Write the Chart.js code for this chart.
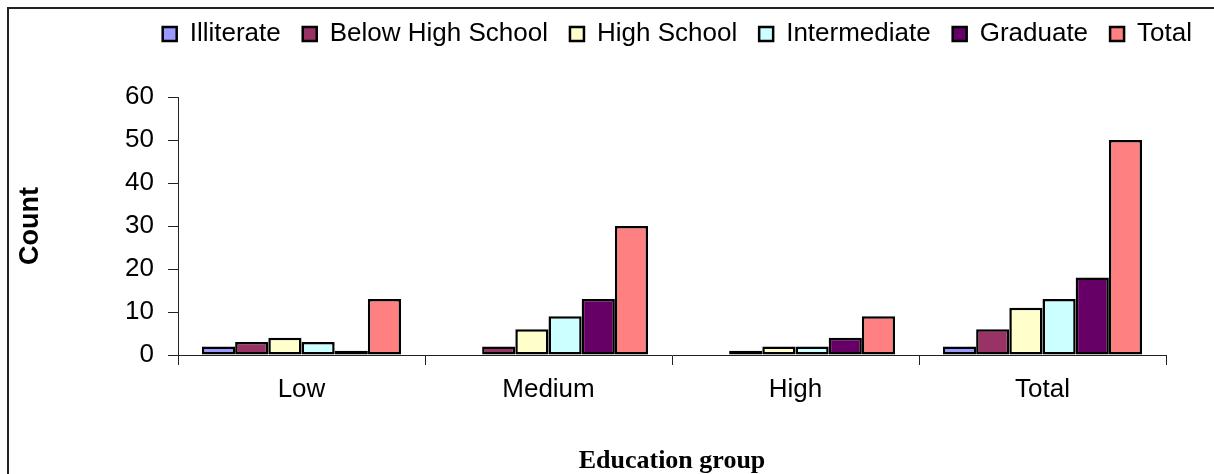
<!DOCTYPE html>
<html>
<head>
<meta charset="utf-8">
<script src="https://cdn.jsdelivr.net/npm/chart.js@4/dist/chart.umd.min.js"></script>
<style>
  html, body { margin: 0; padding: 0; background: #fff; }
  #wrap { position: relative; width: 1214px; height: 474px; }
  #frame {
    position: absolute; left: 7px; top: 7px; right: 0; bottom: 0;
    border-left: 2px solid #222; border-top: 2px solid #222;
  }
  #chart { position: absolute; left: 0; top: 0; }
</style>
</head>
<body>
<div id="wrap">
  <div id="frame"></div>
  <canvas id="chart" width="1214" height="474"></canvas>
</div>
<script>
const categories = ['Low', 'Medium', 'High', 'Total'];
const seriesNames = ['Illiterate', 'Below High School', 'High School', 'Intermediate', 'Graduate', 'Total'];
const illiterate = [2, 0, 0, 2];
const belowHighSchool = [3, 2, 1, 6];
const highSchool = [4, 6, 2, 11];
const intermediate = [3, 9, 2, 13];
const graduate = [1, 13, 4, 18];
const total = [13, 30, 9, 50];
const yMax = 60;
const yStep = 10;

const colors = ['#9999FF', '#993366', '#FFFFCC', '#CCFFFF', '#660066', '#FF8080'];
const values = [illiterate, belowHighSchool, highSchool, intermediate, graduate, total];

const sans = 'Arial, "Liberation Sans", sans-serif';

const ctx = document.getElementById('chart').getContext('2d');

new Chart(ctx, {
  type: 'bar',
  data: {
    labels: categories,
    datasets: seriesNames.map((name, i) => ({
      label: name,
      data: values[i],
      backgroundColor: colors[i],
      borderColor: '#000',
      borderWidth: 2.5,
      borderSkipped: false,
      categoryPercentage: 0.806,
      barPercentage: 1.0,
    })),
  },
  options: {
    responsive: false,
    animation: false,
    layout: { padding: { top: -1, left: 0, right: 0, bottom: 0 } },
    plugins: {
      legend: {
        position: 'top',
        align: 'end',
        labels: {
          boxWidth: 14,
          boxHeight: 14,
          padding: 22,
          color: '#000',
          font: { family: sans, size: 26 },
        },
      },
      // empty title used as a gap between the legend and the plot
      title: {
        display: true,
        text: '',
        weight: 0,
        font: { size: 1, lineHeight: 1 },
        padding: { top: 39, bottom: 0 },
      },
      tooltip: { enabled: false },
    },
    scales: {
      x: {
        grid: {
          offset: true,
          drawOnChartArea: false,
          tickLength: 10,
          color: '#222',
        },
        border: { color: '#222', width: 1 },
        ticks: {
          color: '#000',
          padding: 9,
          font: { family: sans, size: 26 },
        },
        title: {
          display: true,
          text: 'Education group',
          color: '#000',
          font: { family: '"Liberation Serif", "Times New Roman", serif', size: 26, weight: 'bold', lineHeight: 1 },
          padding: { top: 0, bottom: 0 },
        },
        afterFit: (scale) => { scale.height = 119; },
      },
      y: {
        min: 0,
        max: yMax,
        ticks: {
          stepSize: yStep,
          color: '#000',
          padding: 14,
          font: { family: sans, size: 26 },
        },
        grid: {
          drawOnChartArea: false,
          tickLength: 10,
          color: '#222',
        },
        border: { color: '#222', width: 1 },
        title: {
          display: true,
          text: 'Count',
          color: '#000',
          font: { family: sans, size: 27, weight: 'bold' },
          padding: { top: 14, bottom: 0 },
        },
        afterFit: (scale) => { scale.width = 178; },
      },
      // blank axis on the right, only keeps the plot off the right edge
      yRight: {
        position: 'right',
        display: true,
        grid: { display: false },
        border: { display: false },
        ticks: { display: false },
        afterFit: (scale) => { scale.width = 48; },
      },
    },
  },
});
</script>
</body>
</html>
